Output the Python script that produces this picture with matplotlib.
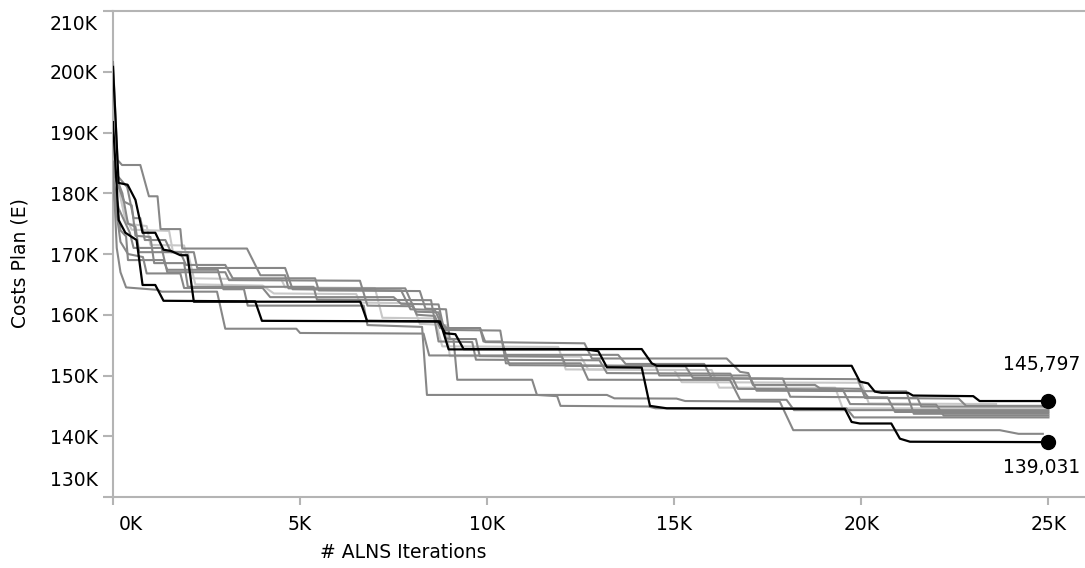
import matplotlib
matplotlib.use("Agg")
import matplotlib.pyplot as plt
from matplotlib.ticker import FixedLocator, FuncFormatter
from matplotlib.transforms import ScaledTranslation

plt.rcParams['font.family'] = ['DejaVu Sans']

# ---------------- data (x: thousand ALNS iterations, y: thousand EUR) -------------
x_ticks = [0, 5, 10, 15, 20, 25]
y_ticks = [130, 140, 150, 160, 170, 180, 190, 200, 210]

# gray runs
g1_x = [0, 0.12, 0.24, 0.73, 0.96, 1.19, 1.27, 1.80, 1.85, 3.58, 3.94, 4.6, 4.69, 7.81, 8.12, 8.6, 8.74, 9.81,
        9.95, 12.6, 12.8, 16.4, 16.76, 16.98, 17.1, 18.76, 18.89, 20.0, 20.2, 22.6, 22.8, 25.0]
g1_y = [201.6, 185.5, 184.65, 184.65, 179.5, 179.5, 174.1, 174.1, 170.9, 170.9, 166.5, 166.5, 164.35, 164.35,
        160.0, 159.8, 157.8, 157.8, 155.5, 155.3, 152.8, 152.8, 150.6, 150.4, 148.45, 148.45, 147.9, 147.8,
        146.3, 146.2, 145.0, 145.0]

g2_x = [0, 0.1, 0.38, 0.55, 0.73, 0.85, 1.4, 1.55, 2.16, 2.25, 4.6, 4.8, 7.7, 7.95, 8.6, 8.74, 8.92, 9.81, 9.9,
        10.4, 10.5, 13.5, 13.7, 15.8, 16.0, 19.9, 20.1, 21.5, 21.6, 25.0]
g2_y = [185.2, 183.0, 181.0, 175.9, 175.9, 172.3, 172.3, 170.3, 170.3, 167.7, 167.7, 164.2, 164.0, 160.9, 160.8,
        158.9, 157.8, 157.8, 155.6, 155.6, 153.4, 153.4, 151.9, 151.9, 149.5, 149.4, 146.3, 146.3, 144.9, 144.9]

g3_x = [0, 0.25, 0.4, 0.6, 0.7, 1.8, 1.95, 3.0, 3.2, 5.4, 5.5, 8.2, 8.35, 8.9, 9.0, 9.7, 9.8, 12.0, 12.1, 15.3,
        15.5, 17.9, 18.1, 20.7, 20.9, 25.0]
g3_y = [184.0, 180.0, 175.0, 174.5, 170.3, 170.3, 168.2, 168.2, 166.0, 166.0, 164.0, 163.9, 161.0, 160.9, 156.0,
        156.0, 153.2, 153.1, 151.6, 151.5, 149.6, 149.5, 146.5, 146.4, 144.0, 144.0]

g4_x = [0, 0.2, 0.35, 0.4, 1.35, 1.45, 2.8, 2.95, 3.5, 3.6, 6.7, 6.8, 8.26, 8.39, 13.2, 13.4, 15.06, 15.29,
        17.82, 18.18, 23.7, 24.2, 24.85]
g4_y = [182.5, 173.9, 172.9, 169.0, 169.0, 167.4, 167.4, 164.2, 164.2, 161.5, 161.5, 158.3, 158.0, 146.8, 146.8,
        146.24, 146.2, 145.8, 145.7, 141.0, 141.0, 140.4, 140.4]

g5_x = [0, 0.1, 0.2, 0.35, 1.18, 1.3, 2.78, 3.0, 4.9, 5.0, 8.3, 8.45, 10.5, 10.6, 14.5, 14.6, 17.0, 17.2, 21.2,
        21.4, 25.0]
g5_y = [184.5, 171.0, 167.0, 164.5, 164.1, 163.8, 163.8, 157.7, 157.7, 157.0, 156.9, 153.3, 153.3, 151.7, 151.6,
        150.0, 150.0, 147.5, 147.4, 143.7, 143.7]

g6_x = [0, 0.3, 0.5, 0.6, 1.0, 1.1, 1.9, 2.0, 5.36, 5.45, 8.5, 8.7, 9.6, 9.7, 13.0, 13.2, 16.5, 16.7, 19.5, 19.7,
        22.0, 22.2, 25.0]
g6_y = [183.5, 178.6, 178.0, 173.0, 172.8, 168.5, 168.5, 164.6, 164.6, 162.5, 162.4, 155.6, 155.5, 152.6, 152.5,
        150.4, 150.3, 147.8, 147.7, 145.3, 145.2, 143.4, 143.4]

g7_x = [0, 0.15, 0.45, 0.55, 1.3, 1.45, 3.0, 3.1, 6.6, 6.8, 8.0, 8.1, 8.7, 8.9, 9.1, 9.2, 11.2, 11.33, 11.87,
        11.96, 14.3, 14.5, 19.6, 19.8, 25.0]
g7_y = [182.0, 177.5, 173.5, 171.0, 171.0, 167.0, 167.0, 165.7, 165.6, 161.5, 161.4, 160.5, 160.4, 156.1, 156.0,
        149.3, 149.3, 146.8, 146.6, 145.0, 144.9, 144.6, 144.6, 143.1, 143.1]

g8_x = [0, 0.2, 0.4, 0.8, 0.9, 1.8, 1.9, 4.0, 4.2, 7.5, 7.7, 8.7, 8.85, 10.35, 10.5, 12.5, 12.7, 16.49, 16.76,
        18.0, 18.2, 25.0]
g8_y = [181.0, 172.0, 170.0, 169.5, 166.8, 166.8, 164.4, 164.4, 162.9, 162.9, 161.8, 161.7, 157.5, 157.4, 152.0,
        152.0, 149.3, 149.27, 146.0, 146.0, 144.3, 144.3]

# light gray runs
l1_x = [0, 0.1, 0.3, 0.5, 1.5, 1.6, 2.0, 2.2, 4.0, 4.3, 6.5, 6.6, 8.0, 8.2, 8.9, 9.0, 12.5, 12.7, 15.0, 15.2,
        20.0, 20.2, 23.6]
l1_y = [186.0, 182.0, 176.5, 174.0, 173.8, 170.4, 170.3, 165.0, 164.8, 163.5, 163.4, 162.0, 161.9, 158.5, 158.3,
        153.2, 153.1, 151.0, 150.9, 148.9, 148.8, 145.4, 145.3]

l2_x = [0, 0.2, 0.35, 0.9, 1.0, 1.9, 2.1, 4.5, 4.6, 7.0, 7.2, 8.6, 8.8, 11.9, 12.1, 16.0, 16.2, 19.3, 19.5, 24.9]
l2_y = [185.0, 180.0, 175.0, 174.6, 171.5, 171.4, 166.0, 165.8, 164.5, 164.4, 159.5, 159.4, 154.8, 154.7, 151.0,
        150.9, 148.0, 148.0, 144.6, 144.6]

# black runs (best and worst final result)
b1_x = [0, 0.15, 0.39, 0.60, 0.79, 1.13, 1.35, 1.55, 1.80, 1.99, 2.16, 6.61, 6.79, 8.70, 8.88, 9.15, 9.37, 14.13,
        14.4, 14.53, 19.74, 19.96, 20.18, 20.36, 20.54, 21.25, 21.38, 22.99, 23.16, 25.0]
b1_y = [200.8, 181.7, 181.4, 178.9, 173.5, 173.5, 170.7, 170.5, 169.8, 169.8, 162.15, 162.15, 159.0, 158.9,
        156.95, 156.8, 154.35, 154.35, 152.0, 151.6, 151.6, 149.0, 148.7, 147.35, 147.15, 147.15, 146.7, 146.6,
        145.797, 145.797]

b2_x = [0, 0.15, 0.33, 0.63, 0.79, 1.13, 1.35, 3.80, 3.98, 8.74, 8.97, 12.62, 12.97, 13.2, 14.13, 14.35, 14.8,
        19.56, 19.74, 19.96, 20.8, 21.03, 21.3, 25.0]
b2_y = [191.7, 175.6, 173.5, 172.3, 164.9, 164.9, 162.3, 162.2, 159.0, 158.9, 154.3, 154.3, 154.0, 151.35, 151.3,
        145.0, 144.6, 144.5, 142.35, 142.1, 142.1, 139.6, 139.1, 139.031]

end_labels = ["145,797", "139,031"]

# ---------------- figure ----------------
W, H, DPI = 1085, 568, 100
fig = plt.figure(figsize=(W / DPI, H / DPI), dpi=DPI)
L, R, T, B = 113, 1084, 11, 497
ax = fig.add_axes([L / W, 1 - B / H, (R - L) / W, (B - T) / H])

gray = '#878787'
light = '#c8c8c8'
for xs, ys in [(l1_x, l1_y), (l2_x, l2_y)]:
    ax.plot(xs, ys, color=light, lw=1.5, solid_joinstyle='round', zorder=2)
for xs, ys in [(g1_x, g1_y), (g2_x, g2_y), (g3_x, g3_y), (g4_x, g4_y), (g5_x, g5_y),
               (g6_x, g6_y), (g7_x, g7_y), (g8_x, g8_y)]:
    ax.plot(xs, ys, color=gray, lw=1.5, solid_joinstyle='round', zorder=3)
for xs, ys in [(b1_x, b1_y), (b2_x, b2_y)]:
    ax.plot(xs, ys, color='black', lw=1.6, solid_joinstyle='round', zorder=4)

# endpoints
ax.plot([b1_x[-1]], [b1_y[-1]], 'o', color='black', ms=10, zorder=5, clip_on=False)
ax.plot([b2_x[-1]], [b2_y[-1]], 'o', color='black', ms=10, zorder=5, clip_on=False)
ax.annotate(end_labels[0], (b1_x[-1], b1_y[-1]), xytext=(-5, 26), textcoords='offset points',
            ha='center', va='center', fontsize=13.5)
ax.annotate(end_labels[1], (b2_x[-1], b2_y[-1]), xytext=(-5, -18), textcoords='offset points',
            ha='center', va='center', fontsize=13.5)

ax.set_xlim(0, 25.95)
ax.set_ylim(130, 210)

ax.xaxis.set_major_locator(FixedLocator(x_ticks))
ax.yaxis.set_major_locator(FixedLocator(y_ticks))
ax.xaxis.set_major_formatter(FuncFormatter(lambda v, p: f"{v:.0f}K"))
ax.yaxis.set_major_formatter(FuncFormatter(lambda v, p: f"{v:.0f}K"))

spine_c = '#b4b4b4'
for s in ['left', 'bottom', 'top']:
    ax.spines[s].set_color(spine_c)
    ax.spines[s].set_linewidth(1.5)
ax.spines['right'].set_visible(False)
ax.tick_params(axis='both', colors=spine_c, labelcolor='black', labelsize=13.5, width=1.5)
ax.tick_params(axis='y', length=7, pad=4)
ax.tick_params(axis='x', length=6, pad=7)

fig.canvas.draw()
ylabels = ax.get_yticklabels()
ylabels[0].set_va('center')
ylabels[0].set_transform(ylabels[0].get_transform() + ScaledTranslation(0, 16 / DPI, fig.dpi_scale_trans))
ylabels[-1].set_va('center')
ylabels[-1].set_transform(ylabels[-1].get_transform() + ScaledTranslation(0, -14 / DPI, fig.dpi_scale_trans))
xlabels = ax.get_xticklabels()
xlabels[0].set_transform(xlabels[0].get_transform() + ScaledTranslation(18 / DPI, 0, fig.dpi_scale_trans))

fig.text(403 / W, 1 - 552 / H, "# ALNS Iterations", ha='center', va='center', fontsize=13.5)
fig.text(20 / W, 1 - 263 / H, "Costs Plan (E)", ha='center', va='center', rotation=90, fontsize=13.5)

fig.savefig("out.png", dpi=DPI)
